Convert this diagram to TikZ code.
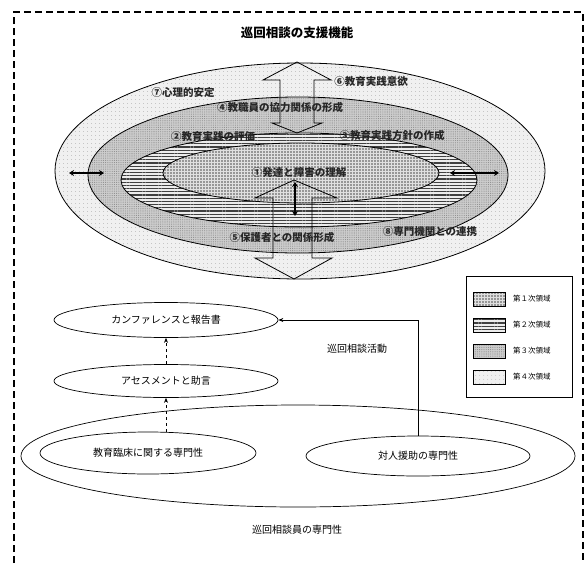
\documentclass[tikz,border=0pt]{standalone}
\usepackage{fontspec}
\setmainfont{Noto Sans CJK JP}
\usetikzlibrary{patterns,patterns.meta,arrows.meta,shapes.geometric}
\begin{document}
\begin{tikzpicture}[x=1pt,y=-1pt,
  region/.style={draw, line width=0.8pt, ellipse, inner sep=0pt},
  reg4/.style={region, preaction={fill=gray!12}, pattern={Dots[distance=4pt,radius=0.45pt]}, pattern color=gray!70},
  reg3/.style={region, preaction={fill=gray!40}, pattern={Dots[distance=2.2pt,radius=0.55pt]}, pattern color=gray!90},
  reg2/.style={region, preaction={fill=gray!15}, pattern={Lines[angle=0,distance=3.2pt,line width=1.3pt]}, pattern color=black!75},
  reg1/.style={region, preaction={fill=gray!25}, pattern={Dots[distance=3pt,radius=0.8pt]}, pattern color=black!70},
  lab/.style={font=\fontsize{10.5}{12}\selectfont\bfseries, inner sep=1pt, text=black!85},
  oval/.style={draw, line width=0.7pt, ellipse, inner sep=0pt, font=\fontsize{10}{12}\selectfont},
  txt/.style={font=\fontsize{10}{12}\selectfont, inner sep=1pt},
  hollow/.style={draw, line width=0.8pt},
  dbl/.style={line width=1.6pt, {Stealth[length=5pt,width=6pt]}-{Stealth[length=5pt,width=6pt]}},
  swatch/.style={draw, line width=0.8pt, minimum width=32pt, minimum height=14pt, inner sep=0pt},
  legtxt/.style={font=\fontsize{7.5}{9}\selectfont, inner sep=0pt, anchor=west}]
\useasboundingbox (0,0) rectangle (587,563);
% dashed frame
\draw[line width=1.6pt, dash pattern=on 7pt off 4pt] (14,563) -- (14,12) -- (583,12) -- (583,563);
% title
\node[font=\fontsize{12.5}{14}\selectfont\bfseries] (title) at (297,33) {巡回相談の支援機能};
% regions
\node[reg4, minimum width=490pt, minimum height=216pt] (r4) at (300,171) {};
\node[reg3, minimum width=420pt, minimum height=156pt] (r3) at (298,175) {};
\node[reg2, minimum width=356pt, minimum height=94pt] (r2) at (299,180) {};
\node[reg1, minimum width=276pt, minimum height=60pt] (r1) at (301,173) {};
% hollow arrows
\draw[hollow] (297,62) -- (331,80) -- (314,80) -- (314,123) -- (322,123) -- (297,133)
  -- (272,123) -- (280,123) -- (280,80) -- (263,80) -- cycle;
\draw[hollow] (294,180) -- (337,198) -- (312,198) -- (312,258) -- (332,258) -- (294,279)
  -- (255,258) -- (273,258) -- (273,198) -- (255,198) -- cycle;
% black double arrows
\coordinate (la) at (69,173); \coordinate (lb) at (104,173);
\coordinate (ra) at (450,173); \coordinate (rb) at (499,173);
\coordinate (ca) at (295,182); \coordinate (cb) at (295,216);
\draw[dbl] (la) -- (lb);
\draw[dbl] (ra) -- (rb);
\draw[dbl] (ca) -- (cb);
% labels
\node[lab] (l7) at (183,93) {⑦心理的安定};
\node[lab] (l6) at (371,82) {⑥教育実践意欲};
\node[lab] (l4) at (280,107) {④教職員の協力関係の形成};
\node[lab] (l2) at (213,137) {②教育実践の評価};
\node[lab] (l3) at (392,135) {③教育実践方針の作成};
\node[lab] (l1) at (299,173) {①発達と障害の理解};
\node[lab] (l5) at (282,237) {⑤保護者との関係形成};
\node[lab] (l8) at (430,232) {⑧専門機関との連携};
% legend
\node[draw, line width=0.8pt, minimum width=106pt, minimum height=121pt, inner sep=0pt] (leg) at (519,336.5) {};
\node[swatch, preaction={fill=gray!25}, pattern={Dots[distance=3pt,radius=0.8pt]}, pattern color=black!70] (s1) at (489,299) {};
\node[swatch, preaction={fill=gray!15}, pattern={Lines[angle=0,distance=3.2pt,line width=1.3pt]}, pattern color=black!75] (s2) at (489,325) {};
\node[swatch, preaction={fill=gray!40}, pattern={Dots[distance=2.2pt,radius=0.55pt]}, pattern color=gray!90] (s3) at (489,351) {};
\node[swatch, preaction={fill=gray!12}, pattern={Dots[distance=4pt,radius=0.45pt]}, pattern color=gray!70] (s4) at (489,377) {};
\node[legtxt] (t1) at (513,299) {第１次領域};
\node[legtxt] (t2) at (513,325) {第２次領域};
\node[legtxt] (t3) at (513,351) {第３次領域};
\node[legtxt] (t4) at (513,377) {第４次領域};
% bottom part
\node[oval, minimum width=554pt, minimum height=102pt] (big) at (298,456) {};
\node[oval, minimum width=224pt, minimum height=35pt] (conf) at (166,320) {カンファレンスと報告書};
\node[oval, minimum width=224pt, minimum height=33pt] (asse) at (166,381) {アセスメントと助言};
\node[oval, minimum width=216pt, minimum height=42pt] (kyo) at (148,453) {教育臨床に関する専門性};
\node[oval, minimum width=224pt, minimum height=40pt] (tai) at (418,456) {対人援助の専門性};
\node[txt] (act) at (357,349) {巡回相談活動};
\node[txt] (pro) at (297,530) {巡回相談員の専門性};
\draw[line width=0.7pt, dashed, -{Stealth[length=5pt,width=4pt]}] (asse.north) -- (conf.south);
\draw[line width=0.7pt, dashed, -{Stealth[length=5pt,width=4pt]}] (kyo.north -| asse.south) -- (asse.south);
\draw[line width=0.7pt, -{Stealth[length=5pt,width=4pt]}] (tai.north) |- (conf.east);
\end{tikzpicture}
\end{document}
